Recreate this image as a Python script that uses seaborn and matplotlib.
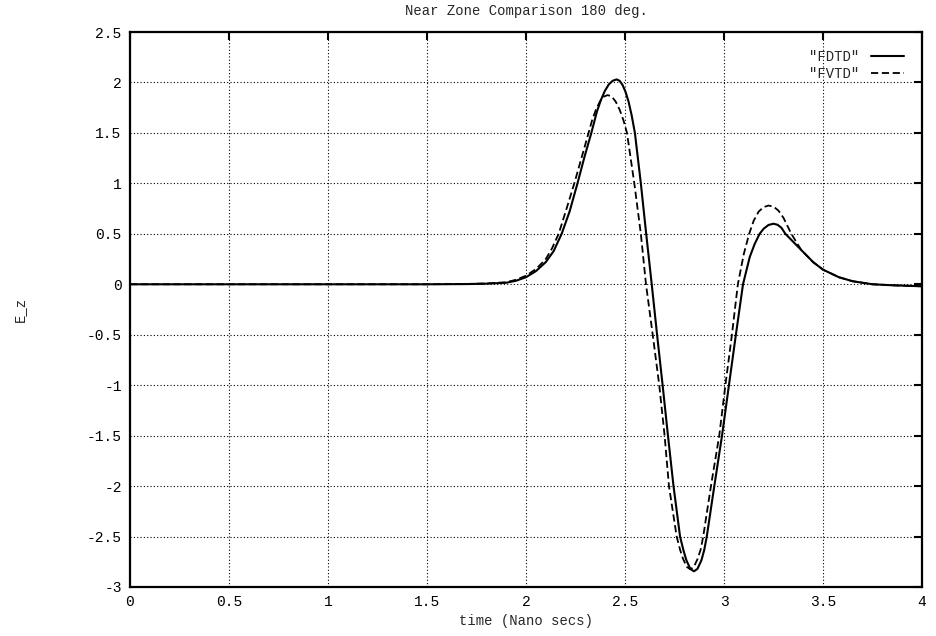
import numpy as np
import pandas as pd
import matplotlib
matplotlib.use('Agg')
import matplotlib.pyplot as plt
import seaborn as sns

# FDTD (solid)
fdtd_t = [0.0, 1.5, 1.7, 1.8, 1.9, 1.95, 2.0, 2.05, 2.1, 2.14, 2.18, 2.22, 2.26,
          2.295, 2.33, 2.358, 2.378, 2.398, 2.418, 2.438, 2.458, 2.473, 2.488,
          2.503, 2.518, 2.533, 2.55, 2.58, 2.607, 2.635, 2.662, 2.69, 2.717,
          2.745, 2.778, 2.795, 2.81, 2.83, 2.848, 2.866, 2.886, 2.90, 2.913,
          2.951, 2.99, 3.025, 3.06, 3.096, 3.13, 3.155, 3.18, 3.2, 3.225, 3.25,
          3.27, 3.29, 3.31, 3.35, 3.39, 3.45, 3.5, 3.58, 3.65, 3.75, 3.85, 4.0]
fdtd_v = [0.0, 0.0, 0.002, 0.006, 0.015, 0.035, 0.07, 0.13, 0.22, 0.33, 0.5, 0.72, 1.0,
          1.26, 1.5, 1.71, 1.825, 1.915, 1.98, 2.017, 2.03, 2.016, 1.974,
          1.905, 1.81, 1.68, 1.5, 1.0, 0.5, 0.0, -0.5, -1.0, -1.5,
          -2.0, -2.5, -2.635, -2.735, -2.82, -2.845, -2.82, -2.735, -2.635, -2.5,
          -2.0, -1.5, -1.0, -0.5, 0.0, 0.27, 0.4, 0.5, 0.55, 0.588, 0.60,
          0.59, 0.56, 0.5, 0.42, 0.34, 0.22, 0.145, 0.07, 0.03, 0.0, -0.01, -0.02]

# FVTD (dashed)
fvtd_t = [0.0, 1.5, 1.7, 1.8, 1.9, 1.95, 2.0, 2.05, 2.1, 2.13, 2.165, 2.205, 2.244,
          2.28, 2.316, 2.333, 2.353, 2.373, 2.393, 2.413, 2.433, 2.453, 2.473,
          2.493, 2.51, 2.547, 2.58, 2.606, 2.64, 2.673, 2.70, 2.722, 2.761,
          2.778, 2.793, 2.812, 2.83, 2.848, 2.867, 2.882, 2.895, 2.934, 2.976,
          3.007, 3.04, 3.07, 3.1, 3.127, 3.15, 3.175, 3.2, 3.225, 3.25, 3.275,
          3.30, 3.32, 3.34, 3.365, 3.39, 3.45, 3.5, 3.58, 3.65, 3.75, 3.85, 4.0]
fvtd_v = [0.0, 0.0, 0.003, 0.008, 0.02, 0.045, 0.085, 0.15, 0.25, 0.35, 0.5, 0.75, 1.0,
          1.25, 1.5, 1.62, 1.73, 1.81, 1.86, 1.875, 1.86, 1.81, 1.73,
          1.62, 1.5, 1.0, 0.5, 0.0, -0.5, -1.0, -1.5, -2.0, -2.5,
          -2.63, -2.72, -2.8, -2.825, -2.8, -2.72, -2.63, -2.5, -2.0, -1.5,
          -1.0, -0.5, 0.0, 0.3, 0.5, 0.63, 0.72, 0.765, 0.78, 0.77, 0.73,
          0.66, 0.58, 0.5, 0.42, 0.34, 0.22, 0.145, 0.07, 0.03, 0.0, -0.01, -0.02]

x_ticks = [0, 0.5, 1, 1.5, 2, 2.5, 3, 3.5, 4]
y_ticks = [-3, -2.5, -2, -1.5, -1, -0.5, 0, 0.5, 1, 1.5, 2, 2.5]

sns.set_style('white')
plt.rcParams['font.family'] = ['Liberation Mono', 'DejaVu Sans Mono']

fig = plt.figure(figsize=(9.36, 6.36), dpi=100)
ax = fig.add_axes([130 / 936, 1 - 587 / 636, 792 / 936, 555 / 636])

sns.lineplot(x=fdtd_t, y=fdtd_v, ax=ax, color='black', lw=1.5, label='"FDTD"')
sns.lineplot(x=fvtd_t, y=fvtd_v, ax=ax, color='black', lw=1.3, label='"FVTD"',
             linestyle=(0, (4, 2)))

ax.set_xlim(0, 4)
ax.set_ylim(-3, 2.5)
ax.set_xticks(x_ticks)
ax.set_yticks(y_ticks)
ax.set_xticklabels([f'{v:g}' for v in x_ticks])
ax.set_yticklabels([f'{v:g}' for v in y_ticks])
ax.grid(True, linestyle=(0, (1, 2)), color='black', lw=0.8)
ax.tick_params(direction='in', top=True, right=True, length=6, width=1.5,
               labelsize=10.5, colors='black', pad=6)
for s in ax.spines.values():
    s.set_linewidth(1.6)
    s.set_color('black')

ax.set_title('Near Zone Comparison 180 deg.', fontsize=10, pad=12)
ax.set_xlabel('time (Nano secs)', fontsize=10, labelpad=3)
ax.set_ylabel('E_z', fontsize=10)
ax.yaxis.set_label_coords(-0.13, 0.5)

ax.legend(loc='upper right', frameon=False, markerfirst=False, fontsize=10,
          handlelength=2.4, borderaxespad=0.9, labelspacing=0.2, handletextpad=0.8)

fig.savefig('out.png', dpi=100)
